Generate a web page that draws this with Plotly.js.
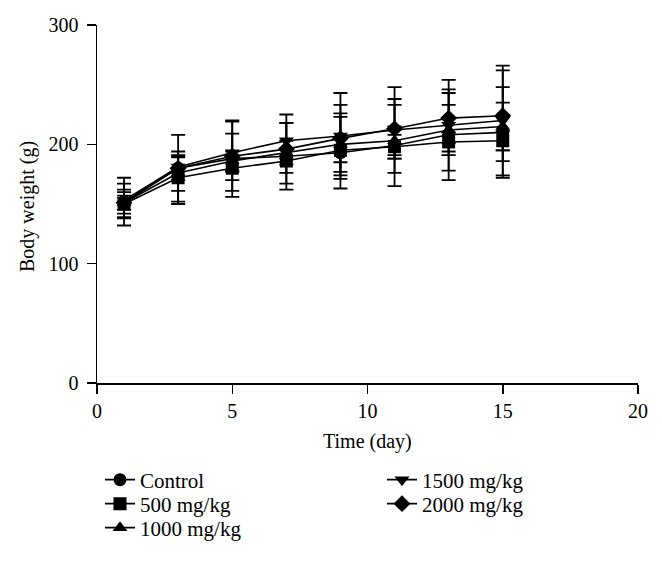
<!DOCTYPE html>
<html>
<head>
<meta charset="utf-8">
<script src="https://cdn.plot.ly/plotly-3.0.1.min.js"></script>
<style>html,body{margin:0;padding:0;background:#fff;}#chart{width:662px;height:562px;}</style>
</head>
<body>
<div id="chart"></div>
<script>
const days = [1, 3, 5, 7, 9, 11, 13, 15];

const seriesNames = ["Control", "500 mg/kg", "1000 mg/kg", "1500 mg/kg", "2000 mg/kg"];

const controlMean = [152, 180, 188, 190, 193, 199, 208, 210];
const controlErr  = [20, 28, 32, 28, 30, 34, 38, 38];

const mg500Mean = [150, 172, 180, 186, 195, 198, 202, 203];
const mg500Err  = [12, 22, 10, 10, 10, 10, 8, 8];

const mg1000Mean = [151, 176, 186, 193, 200, 203, 212, 215];
const mg1000Err  = [9, 15, 8, 10, 26, 12, 21, 20];

const mg1500Mean = [153, 181, 193, 203, 207, 212, 216, 220];
const mg1500Err  = [14, 8, 16, 15, 36, 36, 38, 46];

const mg2000Mean = [151, 180, 190, 196, 205, 213, 222, 224];
const mg2000Err  = [6, 10, 29, 29, 28, 25, 21, 38];

const xTitle = "Time (day)";
const yTitle = "Body weight (g)";

const symbols = ["circle", "square", "triangle-up", "triangle-down", "diamond"];
const means = [controlMean, mg500Mean, mg1000Mean, mg1500Mean, mg2000Mean];
const errs = [controlErr, mg500Err, mg1000Err, mg1500Err, mg2000Err];
const legendIds = ["legend", "legend2", "legend3", "legend4", "legend5"];
// legend entry anchor positions in pixels [left, vertical centre]
const legendPos = [[100, 480], [100, 504], [100, 528], [382, 480], [382, 504]];

const FONT = "Liberation Serif, Times New Roman, serif";
const FS = 20;
const LFS = 21;

const traces = seriesNames.map((name, i) => ({
  type: "scatter",
  mode: "lines+markers",
  name: name,
  x: days,
  y: means[i],
  legend: legendIds[i],
  line: {color: "black", width: 1.6},
  marker: {symbol: symbols[i], size: 13, color: "black"},
  error_y: {type: "data", array: errs[i], visible: true, color: "black", thickness: 1.8, width: 7}
}));

const axisCommon = {
  ticks: "outside",
  ticklen: 9,
  tickwidth: 1.5,
  tickcolor: "black",
  showline: true,
  linecolor: "black",
  linewidth: 1.5,
  showgrid: false,
  zeroline: false,
  automargin: false,
  tickfont: {family: FONT, size: FS, color: "black"}
};

const layout = {
  width: 662,
  height: 562,
  paper_bgcolor: "white",
  plot_bgcolor: "white",
  margin: {l: 97, r: 24, t: 25, b: 179, autoexpand: false},
  font: {family: FONT, size: FS, color: "black"},
  xaxis: Object.assign({}, axisCommon, {range: [0, 20], dtick: 5, tick0: 0}),
  yaxis: Object.assign({}, axisCommon, {range: [0, 300], dtick: 100, tick0: 0, ticklabelstandoff: 4}),
  annotations: [
    {text: xTitle, xref: "paper", yref: "paper", x: 0.5, y: -(442 - 383) / 358,
     xanchor: "center", yanchor: "middle", showarrow: false,
     font: {family: FONT, size: FS, color: "black"}},
    {text: yTitle, xref: "paper", yref: "paper", x: -(97 - 27) / 541, y: (383 - 207) / 358,
     xanchor: "center", yanchor: "middle", showarrow: false, textangle: -90,
     font: {family: FONT, size: FS, color: "black"}}
  ],
  showlegend: true
};

legendIds.forEach((id, i) => {
  layout[id] = {
    xref: "container", yref: "container",
    x: legendPos[i][0] / 662, y: 1 - legendPos[i][1] / 562,
    xanchor: "left", yanchor: "middle",
    bgcolor: "rgba(0,0,0,0)",
    font: {family: FONT, size: LFS, color: "black"}
  };
});

Plotly.newPlot("chart", traces, layout, {displayModeBar: false, staticPlot: true});
</script>
</body>
</html>
